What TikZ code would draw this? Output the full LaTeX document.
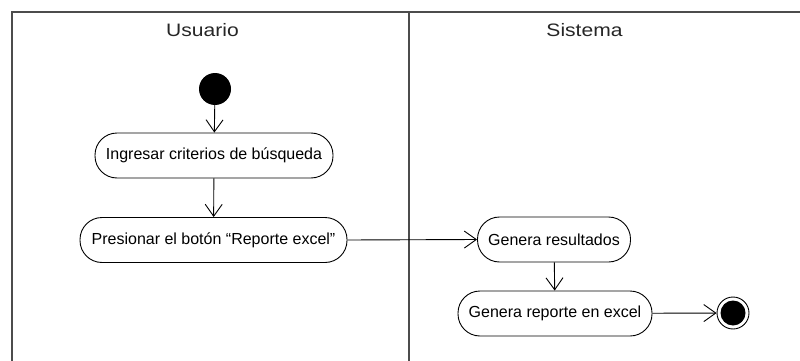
\documentclass[tikz,border=0pt]{standalone}
\usepackage{fontspec}
\usepackage{graphicx}
\setmainfont{Liberation Sans}
\usetikzlibrary{arrows.meta}
\begin{document}
\begin{tikzpicture}[x=1pt,y=-1pt,
  lane/.style={draw=black!70,line width=1.4pt},
  act/.style={draw,line width=0.9pt,rounded corners=22pt,minimum height=45pt,inner sep=0pt,font=\fontsize{16}{19}\selectfont},
  flow/.style={draw,line width=0.9pt,-{Straight Barb[length=12pt,width=17pt,line width=0.9pt]}},
  head/.style={font=\fontsize{18}{21}\selectfont,text=black!85}]
\useasboundingbox (0,0) rectangle (800,361);
\fill[white] (0,0) rectangle (800,361);
% lanes
\draw[lane] (12,361) -- (12,12) -- (800,12);
\draw[lane] (409,12) -- (409,361);
\node[head] (hu) at (202.5,30) {\scalebox{1.17}[1]{Usuario}};
\node[head] (hs) at (584.5,30) {\scalebox{1.17}[1]{Sistema}};
% nodes
\node[circle,fill=black,minimum size=32pt,inner sep=0pt] (start) at (215,89) {};
\node[act,minimum width=238pt] (n1) at (214,155.5) {Ingresar criterios de búsqueda};
\node[act,minimum width=267pt] (n2) at (213.5,240) {Presionar el botón “Reporte excel”};
\node[act,minimum width=153pt] (n3) at (554,239.5) {Genera resultados};
\node[act,minimum width=194pt] (n4) at (555,313.5) {Genera reporte en excel};
\node[circle,draw,line width=0.9pt,fill=white,minimum size=32pt,inner sep=0pt] (end) at (733,313) {};
\fill (end.center) circle (12.5pt);
% flows
\draw[flow] (start) -- (n1);
\draw[flow] (n1) -- (n2);
\draw[flow] (n2.east) -- (n3.west);
\draw[flow] (n3) -- (n4);
\draw[flow] (n4) -- (end);
\end{tikzpicture}
\end{document}
